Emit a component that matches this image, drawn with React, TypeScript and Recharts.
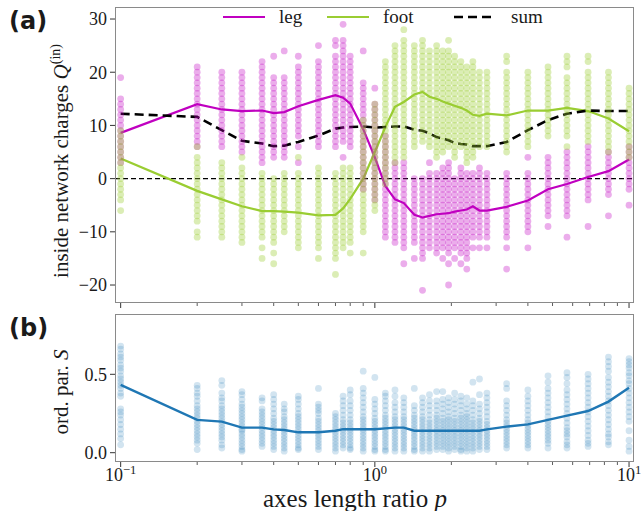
import React from "react";
import { ComposedChart, Scatter, Line, XAxis, YAxis, ReferenceLine, Legend } from "recharts";

// axes length ratios p (one column of samples per value)
const P = [0.1, 0.2, 0.25, 0.3, 0.36, 0.4, 0.44, 0.5, 0.6, 0.7, 0.75, 0.8, 0.9, 1.0, 1.1, 1.2, 1.3, 1.43, 1.54, 1.64, 1.75, 1.85, 1.95, 2.06, 2.18, 2.3, 2.43, 2.58, 2.76, 3.3, 4.0, 4.8, 5.7, 6.9, 8.3, 10];

// inside network charges of the leg, per column
const LEG_PTS = [
    [19, 15, 14, 13, 12, 11, 10, 9, 8, 7, 6, 5, 4, 3],
    [21, 20, 19, 18, 17, 16, 15, 14, 13, 12, 11, 10, 9, 8, 7, 6],
    [20, 19, 18, 17, 16, 15, 14, 13, 12, 11, 10, 9, 8, 7, 6],
    [20, 19, 18, 17, 16, 15, 14, 13, 12, 11, 10, 9, 8, 7, 6, 5],
    [22, 21, 20, 19, 18, 17, 16, 15, 14, 13, 12, 11, 10, 9, 8, 7, 6, 5, 4, 3],
    [23, 19, 18, 17, 16, 15, 14, 13, 12, 11, 10, 9, 8, 7, 6, 5, 4],
    [24, 19, 18, 17, 16, 15, 14, 13, 12, 11, 10, 9, 8, 7, 6, 5, 4],
    [23, 21, 20, 19, 18, 17, 16, 15, 14, 13, 12, 11, 10, 9, 8, 6, 3],
    [25, 22, 21, 20, 19, 18, 17, 16, 15, 14, 13, 12, 11, 10, 9, 8, 7, 6],
    [26, 25, 23, 22, 21, 20, 19, 18, 17, 16, 15, 14, 13, 12, 11, 10, 9, 8, 7, 6],
    [29, 26, 25, 24, 23, 22, 21, 20, 19, 18, 17, 16, 15, 14, 13, 12, 11, 10, 9, 8, 7, 4],
    [23, 22, 21, 20, 19, 18, 17, 16, 15, 14, 13, 12, 11, 10, 9, 8, 7, 6],
    [24, 18, 17, 16, 15, 14, 13, 12, 11, 10, 9, 8, 7, 6, 5, 4, 3, 2, 1, 0, -1, -2],
    [17, 14, 13, 12, 11, 10, 9, 8, 7, 6, 5, 4, 3, 2, 1, 0, -1, -2, -3, -4],
    [8, 7, 6, 5, 4, 3, 2, 1, 0, -1, -2, -3, -4, -5, -6, -7, -8, -9, -10, -11],
    [3, 2, 1, 0, -1, -2, -3, -4, -5, -6, -7, -8, -9, -10, -11, -12],
    [3, 2, 1, 0, -1, -2, -3, -4, -5, -6, -7, -8, -9, -10, -11, -12, -13, -16],
    [0, -1, -2, -3, -4, -5, -6, -7, -8, -9, -10, -11, -12, -15],
    [0, -1, -2, -3, -4, -5, -6, -7, -8, -9, -10, -11, -12, -13, -14, -15, -21],
    [3, 1, 0, -1, -2, -3, -4, -5, -6, -7, -8, -9, -10, -11, -12, -13],
    [1, 0, -1, -2, -3, -4, -5, -6, -7, -8, -9, -10, -11, -12, -13, -14],
    [2, 1, 0, -1, -2, -3, -4, -5, -6, -7, -8, -9, -10, -11, -12, -13, -15],
    [3, 2, 1, 0, -1, -2, -3, -4, -5, -6, -7, -8, -9, -10, -11, -12, -13, -14, -16, -20],
    [0, -1, -2, -3, -4, -5, -6, -7, -8, -9, -10, -11, -12, -13, -15],
    [2, 1, 0, -1, -2, -3, -4, -5, -6, -7, -8, -9, -10, -11, -12, -13, -14, -16],
    [1, 0, -1, -2, -3, -4, -5, -6, -7, -8, -9, -10, -11, -12, -13, -14, -15, -17],
    [1, 0, -1, -2, -3, -4, -5, -6, -7, -8, -9, -10, -11, -13],
    [2, 1, 0, -1, -2, -3, -4, -5, -6, -7, -8, -9, -10, -11, -13],
    [1, 0, -1, -2, -3, -4, -5, -6, -7, -8, -9, -10, -11, -13],
    [1, 0, -1, -2, -3, -4, -5, -6, -7, -8, -9, -10, -11, -13, -17],
    [4, 1, 0, -1, -2, -3, -4, -5, -6, -7, -8, -9, -10, -13],
    [4, 3, 2, 1, 0, -1, -2, -3, -4, -5, -6, -7, -9],
    [5, 4, 3, 2, 1, 0, -1, -2, -3, -4, -5, -6, -7, -11],
    [6, 5, 4, 3, 2, 1, 0, -1, -2, -3, -4, -9],
    [5, 4, 3, 2, 1, 0, -1, -2, -3, -7],
    [6, 5, 4, 3, 2, 1, 0, -1, -2, -5],
];

// inside network charges of the foot, per column
const FOOT_PTS = [
    [9, 8, 7, 6, 5, 4, 3, 2, 1, 0, -1, -2, -3, -4, -6],
    [6, 4, 3, 2, 1, 0, -1, -2, -3, -4, -5, -6, -7, -8, -10, -11],
    [3, 2, 1, 0, -1, -2, -3, -4, -5, -6, -7, -8, -9, -10, -11],
    [4, 2, 1, 0, -1, -2, -3, -4, -5, -6, -7, -8, -9, -10, -11, -12],
    [1, 0, -1, -2, -3, -4, -5, -6, -7, -8, -9, -10, -11, -13, -15],
    [0, -1, -2, -3, -4, -5, -6, -7, -8, -9, -10, -11, -12, -14, -16],
    [1, 0, -1, -2, -3, -4, -5, -6, -7, -8, -9, -10],
    [4, 1, 0, -1, -2, -3, -4, -5, -6, -7, -8, -9, -10, -11, -12, -13],
    [2, 1, 0, -1, -2, -3, -4, -5, -6, -7, -8, -9, -10, -11, -12, -13, -15],
    [1, 0, -1, -2, -3, -4, -5, -6, -7, -8, -9, -10, -11, -12, -13, -14, -15, -18],
    [2, 1, 0, -1, -2, -3, -4, -5, -6, -7, -8, -9, -10, -11, -12, -13],
    [2, 1, 0, -1, -2, -3, -4, -5, -6, -7, -8, -9, -10, -11, -12, -14],
    [11, 10, 9, 8, 7, 6, 5, 4, 3, 2, 1, 0, -1, -2, -3, -4, -5, -6, -7, -8, -9, -10, -14],
    [14, 13, 12, 11, 10, 9, 8, 7, 6, 5, 4, 3, 2, 1, 0, -1, -2, -3, -4, -5, -6],
    [22, 21, 20, 19, 18, 17, 16, 15, 14, 13, 12, 11, 10, 9, 8, 7, 6, 5, 4, 3, 2, 1, 0, -1],
    [25, 24, 23, 22, 21, 20, 19, 18, 17, 16, 15, 14, 13, 12, 11, 10, 9, 8, 7, 6, 5, 4, 3],
    [28, 26, 25, 24, 23, 22, 21, 20, 19, 18, 17, 16, 15, 14, 13, 12, 11, 10, 9, 8, 7, 6, 5, 4],
    [25, 24, 23, 22, 21, 20, 19, 18, 17, 16, 15, 14, 13, 12, 11, 10, 9, 8, 7, 6],
    [26, 25, 24, 23, 22, 21, 20, 19, 18, 17, 16, 15, 14, 13, 12, 11, 10, 9, 8, 7],
    [24, 23, 22, 21, 20, 19, 18, 17, 16, 15, 14, 13, 12, 11, 10, 9, 8, 7, 6],
    [25, 24, 23, 22, 21, 20, 19, 18, 17, 16, 15, 14, 13, 12, 11, 10, 9, 8, 7, 6, 5, 4],
    [24, 23, 22, 21, 20, 19, 18, 17, 16, 15, 14, 13, 12, 11, 10, 9, 8, 7, 6, 5],
    [26, 24, 23, 22, 21, 20, 19, 18, 17, 16, 15, 14, 13, 12, 11, 10, 9, 8, 7, 6],
    [23, 22, 21, 20, 19, 18, 17, 16, 15, 14, 13, 12, 11, 10, 9, 8, 7, 6, 5, 4],
    [22, 21, 20, 19, 18, 17, 16, 15, 14, 13, 12, 11, 10, 9, 8, 7, 6],
    [21, 20, 19, 18, 17, 16, 15, 14, 13, 12, 11, 10, 9, 8, 7, 6, 5, 4, 3],
    [22, 21, 20, 19, 18, 17, 16, 15, 14, 13, 12, 11, 10, 9, 8, 7, 6, 5, 4],
    [20, 19, 18, 17, 16, 15, 14, 13, 12, 11, 10, 9, 8, 7, 6],
    [20, 19, 18, 17, 16, 15, 14, 13, 12, 11, 10, 9, 8, 7, 6],
    [23, 22, 20, 19, 18, 17, 16, 15, 14, 13, 12, 11, 10, 9, 8, 7, 6, 5],
    [20, 19, 18, 17, 16, 15, 14, 13, 12, 11, 10, 9, 8, 7, 6],
    [21, 20, 19, 18, 17, 16, 15, 14, 13, 12, 11, 10, 9, 8],
    [23, 22, 21, 19, 18, 17, 16, 15, 14, 13, 12, 11, 10, 9, 8, 6],
    [23, 22, 20, 19, 18, 17, 16, 15, 14, 13, 12, 11, 10, 9, 8, 7],
    [20, 19, 18, 17, 16, 15, 14, 13, 12, 11, 10, 9, 8, 7, 6, 5],
    [17, 16, 15, 14, 13, 12, 11, 10, 9, 8, 7, 6, 5, 4],
];

// order parameter S, per column
const S_PTS = [
    [0.68, 0.66, 0.63, 0.61, 0.59, 0.56, 0.54, 0.52, 0.49, 0.47, 0.45, 0.43, 0.41, 0.38, 0.36, 0.28, 0.26, 0.24, 0.21, 0.18, 0.15, 0.12, 0.09, 0.05],
    [0.43, 0.41, 0.38, 0.36, 0.33, 0.3, 0.28, 0.26, 0.24, 0.22, 0.2, 0.18, 0.16, 0.14, 0.12, 0.1, 0.08, 0.06, 0.02],
    [0.46, 0.43, 0.38, 0.35, 0.33, 0.3, 0.28, 0.26, 0.24, 0.22, 0.2, 0.18, 0.16, 0.14, 0.12, 0.1, 0.08, 0.05, 0.03],
    [0.39, 0.37, 0.34, 0.31, 0.29, 0.27, 0.25, 0.23, 0.21, 0.19, 0.17, 0.15, 0.14, 0.12, 0.1, 0.08, 0.06, 0.04, 0.02, 0.01],
    [0.35, 0.33, 0.28, 0.26, 0.24, 0.22, 0.2, 0.18, 0.16, 0.14, 0.12, 0.1, 0.08, 0.06, 0.04],
    [0.37, 0.34, 0.31, 0.28, 0.25, 0.22, 0.2, 0.18, 0.16, 0.14, 0.12, 0.1, 0.08, 0.06, 0.04, 0.02],
    [0.31, 0.28, 0.26, 0.23, 0.21, 0.19, 0.17, 0.15, 0.13, 0.11, 0.09, 0.07, 0.05, 0.03, 0.01],
    [0.36, 0.34, 0.31, 0.28, 0.25, 0.23, 0.21, 0.19, 0.17, 0.15, 0.13, 0.11, 0.09, 0.07, 0.05, 0.03, 0.02],
    [0.41, 0.31, 0.29, 0.27, 0.25, 0.22, 0.2, 0.18, 0.16, 0.14, 0.12, 0.1, 0.08, 0.06, 0.04, 0.02],
    [0.25, 0.23, 0.21, 0.19, 0.17, 0.15, 0.13, 0.11, 0.09, 0.07, 0.05, 0.03, 0.01],
    [0.36, 0.33, 0.3, 0.27, 0.24, 0.21, 0.19, 0.17, 0.15, 0.13, 0.11, 0.09, 0.07, 0.05, 0.03],
    [0.4, 0.37, 0.33, 0.3, 0.27, 0.24, 0.21, 0.19, 0.17, 0.15, 0.13, 0.11, 0.09, 0.07, 0.05, 0.03, 0.02],
    [0.52, 0.41, 0.38, 0.35, 0.32, 0.29, 0.26, 0.23, 0.21, 0.19, 0.17, 0.15, 0.13, 0.11, 0.09, 0.07, 0.05, 0.03, 0.01],
    [0.48, 0.34, 0.31, 0.28, 0.25, 0.22, 0.2, 0.18, 0.16, 0.14, 0.12, 0.1, 0.08, 0.06, 0.04, 0.02, 0.01],
    [0.38, 0.36, 0.33, 0.3, 0.27, 0.24, 0.22, 0.2, 0.18, 0.16, 0.14, 0.12, 0.1, 0.08, 0.06, 0.04, 0.02, 0.01],
    [0.4, 0.36, 0.32, 0.29, 0.26, 0.23, 0.21, 0.19, 0.17, 0.15, 0.13, 0.11, 0.09, 0.07, 0.05, 0.03, 0.01],
    [0.35, 0.32, 0.29, 0.26, 0.23, 0.21, 0.19, 0.17, 0.15, 0.13, 0.11, 0.09, 0.07, 0.05, 0.03, 0.01],
    [0.41, 0.3, 0.27, 0.24, 0.22, 0.2, 0.18, 0.16, 0.14, 0.12, 0.1, 0.08, 0.06, 0.04, 0.02, 0.01],
    [0.35, 0.32, 0.29, 0.26, 0.23, 0.21, 0.19, 0.17, 0.15, 0.13, 0.11, 0.09, 0.07, 0.05, 0.03, 0.01],
    [0.37, 0.33, 0.3, 0.27, 0.24, 0.21, 0.19, 0.17, 0.15, 0.13, 0.11, 0.09, 0.07, 0.05, 0.03, 0.01],
    [0.39, 0.33, 0.3, 0.27, 0.24, 0.22, 0.2, 0.18, 0.16, 0.14, 0.12, 0.1, 0.08, 0.06, 0.04, 0.02],
    [0.39, 0.34, 0.31, 0.28, 0.25, 0.22, 0.2, 0.18, 0.16, 0.14, 0.12, 0.1, 0.08, 0.06, 0.04, 0.02],
    [0.35, 0.32, 0.29, 0.26, 0.23, 0.21, 0.19, 0.17, 0.15, 0.13, 0.11, 0.09, 0.07, 0.05, 0.03, 0.01],
    [0.38, 0.34, 0.31, 0.28, 0.25, 0.22, 0.2, 0.18, 0.16, 0.14, 0.12, 0.1, 0.08, 0.06, 0.04, 0.02],
    [0.36, 0.33, 0.3, 0.27, 0.24, 0.22, 0.2, 0.18, 0.16, 0.14, 0.12, 0.1, 0.08, 0.06, 0.04, 0.02, 0.01],
    [0.35, 0.31, 0.28, 0.25, 0.23, 0.21, 0.19, 0.17, 0.15, 0.13, 0.11, 0.09, 0.07, 0.05, 0.03, 0.01],
    [0.45, 0.33, 0.3, 0.27, 0.24, 0.21, 0.19, 0.17, 0.15, 0.13, 0.11, 0.09, 0.07, 0.05, 0.03, 0.01],
    [0.47, 0.37, 0.31, 0.28, 0.25, 0.22, 0.2, 0.18, 0.16, 0.14, 0.12, 0.1, 0.08, 0.06, 0.04, 0.02],
    [0.38, 0.35, 0.32, 0.29, 0.26, 0.23, 0.2, 0.18, 0.16, 0.14, 0.12, 0.1, 0.08, 0.06, 0.04, 0.02],
    [0.44, 0.41, 0.33, 0.3, 0.27, 0.24, 0.21, 0.19, 0.17, 0.15, 0.13, 0.11, 0.09, 0.07, 0.05, 0.03],
    [0.4, 0.36, 0.33, 0.3, 0.27, 0.24, 0.21, 0.19, 0.17, 0.15, 0.13, 0.11, 0.09, 0.07, 0.05, 0.03],
    [0.49, 0.45, 0.41, 0.38, 0.35, 0.32, 0.29, 0.26, 0.23, 0.2, 0.18, 0.16, 0.14, 0.12, 0.1, 0.08, 0.06, 0.03],
    [0.51, 0.48, 0.44, 0.4, 0.37, 0.34, 0.31, 0.28, 0.25, 0.22, 0.19, 0.16, 0.14, 0.12, 0.1, 0.07, 0.05, 0.03],
    [0.5, 0.47, 0.44, 0.41, 0.38, 0.35, 0.32, 0.29, 0.26, 0.23, 0.2, 0.17, 0.14, 0.11, 0.08, 0.06, 0.04],
    [0.61, 0.58, 0.55, 0.52, 0.48, 0.45, 0.42, 0.39, 0.36, 0.33, 0.3, 0.27, 0.24, 0.21, 0.18, 0.15, 0.12, 0.1, 0.07, 0.05],
    [0.6, 0.58, 0.56, 0.54, 0.51, 0.49, 0.46, 0.44, 0.41, 0.38, 0.35, 0.32, 0.29, 0.26, 0.23, 0.2, 0.14, 0.08, 0.04, 0.01],
];

// column means
const LEG_MEAN = [8.6, 14.0, 13.0, 12.7, 12.8, 12.3, 12.5, 13.6, 14.8, 15.7, 15.2, 14.1, 9.3, 4.0, -1.4, -3.9, -4.6, -6.8, -7.3, -7.0, -6.7, -6.6, -6.5, -6.2, -6.0, -5.8, -5.2, -6.0, -6.0, -5.3, -4.1, -2.0, -1.0, 0.3, 1.4, 3.6];
const FOOT_MEAN = [3.8, -2.3, -3.9, -5.2, -6.1, -6.1, -6.2, -6.4, -6.9, -6.8, -5.6, -3.8, 0.0, 5.0, 9.7, 13.5, 14.4, 15.8, 16.3, 15.4, 15.0, 14.5, 14.1, 13.7, 13.3, 12.8, 12.0, 11.8, 12.2, 11.9, 12.8, 12.8, 13.3, 12.7, 11.3, 8.9];
const SUM_MEAN = [12.2, 11.6, 9.1, 7.1, 6.6, 6.1, 6.2, 6.9, 8.1, 9.4, 9.6, 9.7, 9.8, 9.6, 9.7, 9.8, 9.8, 9.2, 9.0, 8.5, 7.8, 7.5, 7.2, 6.7, 6.5, 6.4, 6.1, 6.1, 6.1, 6.9, 9.1, 11.0, 12.2, 12.8, 12.7, 12.7];
const S_MEAN = [0.432, 0.209, 0.198, 0.16, 0.16, 0.149, 0.145, 0.13, 0.13, 0.14, 0.15, 0.15, 0.15, 0.15, 0.155, 0.16, 0.16, 0.14, 0.14, 0.14, 0.14, 0.14, 0.14, 0.14, 0.14, 0.14, 0.14, 0.14, 0.149, 0.166, 0.181, 0.209, 0.236, 0.266, 0.326, 0.415];

// ticks
const X_TICKS = [0.1, 0.2, 0.3, 0.4, 0.5, 0.6, 0.7, 0.8, 0.9, 1, 2, 3, 4, 5, 6, 7, 8, 9, 10];
const X_MAJOR = [0.1, 1, 10];
const X_MAJOR_EXP = ["−1", "0", "1"];
const Q_TICKS = [-20, -10, 0, 10, 20, 30];
const S_TICKS = [0, 0.5];

const LEG_C = "#c000c0";
const FOOT_C = "#9acd32";
const SUM_C = "#000000";
const S_C = "#1f77b4";
const TEXT_C = "#1a1a1a";
const SERIF = '"Liberation Serif", "DejaVu Serif", serif';
const SANS_BOLD = '"DejaVu Sans", sans-serif';

const X_DOMAIN = [0.095, 10.46];

const toRows = (pts: number[][]) => P.flatMap((p, i) => pts[i].map((v) => ({ p, v })));
const toLine = (vals: number[]) => P.map((p, i) => ({ p, v: vals[i] }));

const legRows = toRows(LEG_PTS);
const footRows = toRows(FOOT_PTS);
const sRows = toRows(S_PTS);

const dot = (color: string, op: number) => (props: any) => {
    if (props.cx == null || props.cy == null) return <g />;
    return <circle cx={props.cx} cy={props.cy} r={3.4} fill={color} fillOpacity={op} stroke="none" />;
};

const xTick = (showLabel: boolean) => (props: any) => {
    const { x, y, payload } = props;
    const idx = X_MAJOR.indexOf(payload.value);
    const major = idx >= 0;
    return (
        <g>
            <line x1={x} x2={x} y1={y} y2={y + (major ? 5 : 3)} stroke="#333" strokeWidth={major ? 1 : 0.8} />
            {showLabel && major && (
                <text x={x} y={y + 19} textAnchor="middle" fontSize={18} fill={TEXT_C} fontFamily={SERIF}>
                    10
                    <tspan dy={-7} fontSize={12.5}>
                        {X_MAJOR_EXP[idx]}
                    </tspan>
                </text>
            )}
        </g>
    );
};

const yTick = (fmt: (v: number) => string) => (props: any) => {
    const { x, y, payload } = props;
    return (
        <g>
            <line x1={x - 5} x2={x} y1={y} y2={y} stroke="#333" strokeWidth={1} />
            <text x={x - 8} y={y} dy="0.35em" textAnchor="end" fontSize={18} fill={TEXT_C} fontFamily={SERIF}>
                {fmt(payload.value)}
            </text>
        </g>
    );
};

const fmtQ = (v: number) => (v < 0 ? `−${-v}` : String(v));
const fmtS = (v: number) => v.toFixed(1);

const LEGEND_ITEMS = [
    { name: "leg", color: LEG_C, dash: undefined, x: 223, tx: 279 },
    { name: "foot", color: FOOT_C, dash: undefined, x: 327, tx: 383 },
    { name: "sum", color: SUM_C, dash: "9 5", x: 454, tx: 511 },
];

const TopLegend = () => (
    <svg width={644} height={28} style={{ display: "block" }}>
        {LEGEND_ITEMS.map((it) => (
            <g key={it.name}>
                <line x1={it.x} x2={it.x + 42} y1={13} y2={13} stroke={it.color} strokeWidth={it.dash ? 2.6 : 2.2} strokeDasharray={it.dash} />
                <text x={it.tx} y={19} fontSize={19} fontFamily={SERIF} fill={TEXT_C}>
                    {it.name}
                </text>
            </g>
        ))}
    </svg>
);

const Frame = ({ left, top, width, height }: { left: number; top: number; width: number; height: number }) => (
    <div style={{ position: "absolute", left, top, width, height, border: "1px solid #8a8a8a", boxSizing: "border-box", pointerEvents: "none" }} />
);

export default function App() {
    return (
        <div style={{ position: "absolute", left: 0, top: 0, width: 644, height: 511, background: "#fff", fontFamily: SERIF, color: TEXT_C }}>
            {/* panel (a) */}
            <div style={{ position: "absolute", left: 0, top: 0 }}>
                <ComposedChart width={644} height={310} margin={{ top: 7, right: 10, bottom: 0, left: 0 }}>
                    <XAxis dataKey="p" type="number" scale="log" domain={X_DOMAIN} allowDataOverflow ticks={X_TICKS} interval={0} height={7} axisLine={false} tickLine={false} tickSize={0} tickMargin={0} tick={xTick(false)} />
                    <YAxis type="number" domain={[-23.38, 32.26]} allowDataOverflow ticks={Q_TICKS} interval={0} width={115} axisLine={false} tickLine={false} tickSize={0} tickMargin={0} tick={yTick(fmtQ)} />
                    <Legend verticalAlign="middle" layout="horizontal" content={() => <TopLegend />} wrapperStyle={{ top: 4, left: 0, width: 644, height: 28 }} />
                    <Scatter data={legRows} dataKey="v" shape={dot(LEG_C, 0.32)} isAnimationActive={false} legendType="none" />
                    <Scatter data={footRows} dataKey="v" shape={dot(FOOT_C, 0.36)} isAnimationActive={false} legendType="none" />
                    <ReferenceLine y={0} stroke="#000" strokeWidth={1.2} strokeDasharray="5 3" />
                    <Line data={toLine(LEG_MEAN)} dataKey="v" name="leg" stroke={LEG_C} strokeWidth={2.2} dot={false} isAnimationActive={false} />
                    <Line data={toLine(FOOT_MEAN)} dataKey="v" name="foot" stroke={FOOT_C} strokeWidth={2.2} dot={false} isAnimationActive={false} />
                    <Line data={toLine(SUM_MEAN)} dataKey="v" name="sum" stroke={SUM_C} strokeWidth={2.6} strokeDasharray="9 5" dot={false} isAnimationActive={false} />
                </ComposedChart>
                <Frame left={115} top={7} width={519} height={296} />
            </div>

            {/* panel (b) */}
            <div style={{ position: "absolute", left: 0, top: 300 }}>
                <ComposedChart width={644} height={211} margin={{ top: 14, right: 10, bottom: 0, left: 0 }}>
                    <XAxis dataKey="p" type="number" scale="log" domain={X_DOMAIN} allowDataOverflow ticks={X_TICKS} interval={0} height={49} axisLine={false} tickLine={false} tickSize={0} tickMargin={0} tick={xTick(true)} />
                    <YAxis type="number" domain={[-0.0593, 0.8846]} allowDataOverflow ticks={S_TICKS} interval={0} width={115} axisLine={false} tickLine={false} tickSize={0} tickMargin={0} tick={yTick(fmtS)} />
                    <Scatter data={sRows} dataKey="v" shape={dot(S_C, 0.2)} isAnimationActive={false} legendType="none" />
                    <Line data={toLine(S_MEAN)} dataKey="v" stroke={S_C} strokeWidth={2.4} dot={false} isAnimationActive={false} />
                </ComposedChart>
                <Frame left={115} top={14} width={519} height={148} />
            </div>

            {/* panel letters and axis titles */}
            <svg width={644} height={511} style={{ position: "absolute", left: 0, top: 0, pointerEvents: "none" }}>
                <text x={9} y={29} fontFamily={SANS_BOLD} fontWeight="bold" fontSize={24} fill={TEXT_C}>(a)</text>
                <text x={9} y={336} fontFamily={SANS_BOLD} fontWeight="bold" fontSize={24} fill={TEXT_C}>(b)</text>
                <text transform="translate(68, 161) rotate(-90)" textAnchor="middle" fontFamily={SERIF} fontSize={21} fill={TEXT_C}>
                    inside network charges <tspan fontStyle="italic">Q</tspan>
                    <tspan dy={-8} fontSize={14}>(in)</tspan>
                </text>
                <text transform="translate(68, 392) rotate(-90)" textAnchor="middle" fontFamily={SERIF} fontSize={21} fill={TEXT_C}>
                    ord. par. <tspan fontStyle="italic">S</tspan>
                </text>
                <text x={355} y={507} textAnchor="middle" fontFamily={SERIF} fontSize={25} fill={TEXT_C}>
                    axes length ratio <tspan fontStyle="italic">p</tspan>
                </text>
            </svg>
        </div>
    );
}
